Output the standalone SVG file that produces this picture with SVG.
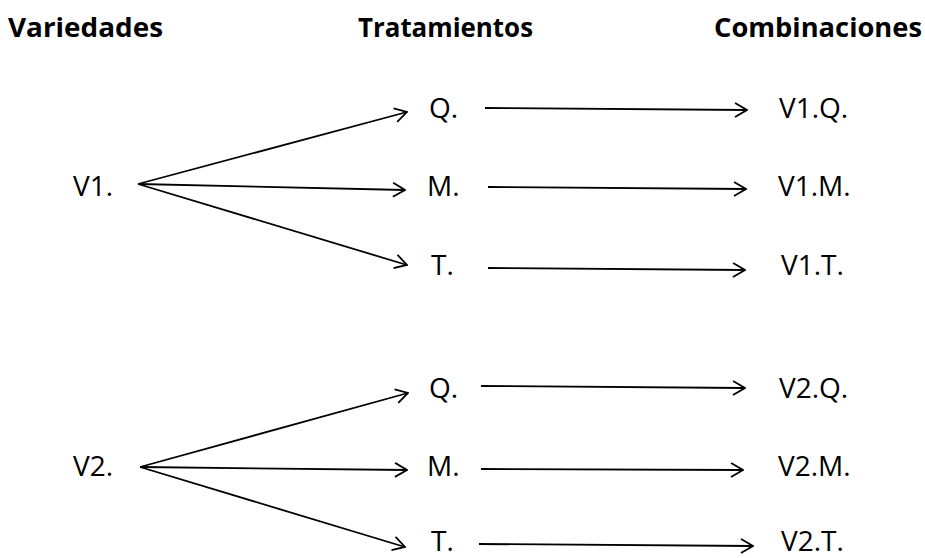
<svg xmlns="http://www.w3.org/2000/svg" width="925" height="558" viewBox="0 0 925 558">
<style>
.h{font-family:"Open Sans","Liberation Sans",sans-serif;font-weight:bold;font-size:27px;fill:#000}
.t{font-family:"Open Sans","Liberation Sans",sans-serif;font-size:28px;fill:#000}
.c{fill:none;stroke:#000;stroke-width:1.8}
</style>
<defs>
<marker id="a" viewBox="0 0 14 16" refX="13" refY="8" markerWidth="14" markerHeight="16" markerUnits="userSpaceOnUse" orient="auto">
<path d="M1,1 L13,8 L1,15" fill="none" stroke="#000" stroke-width="1.8"/>
</marker>
</defs>
<rect width="925" height="558" fill="#fff"/>
<g id="headers">
<text class="h" x="8" y="37" textLength="155" lengthAdjust="spacingAndGlyphs">Variedades</text>
<text class="h" x="358" y="37" textLength="175" lengthAdjust="spacingAndGlyphs">Tratamientos</text>
<text class="h" x="714" y="37" textLength="208" lengthAdjust="spacingAndGlyphs">Combinaciones</text>
</g>
<g id="connectors">
<line class="c" x1="138" y1="184" x2="407" y2="112" marker-end="url(#a)"/>
<line class="c" x1="138" y1="184" x2="405" y2="190" marker-end="url(#a)"/>
<line class="c" x1="138" y1="184" x2="407" y2="265" marker-end="url(#a)"/>
<line class="c" x1="485" y1="108" x2="747" y2="110" marker-end="url(#a)"/>
<line class="c" x1="488" y1="187" x2="746" y2="189" marker-end="url(#a)"/>
<line class="c" x1="488" y1="268" x2="745" y2="270" marker-end="url(#a)"/>
<line class="c" x1="140" y1="467" x2="408" y2="393" marker-end="url(#a)"/>
<line class="c" x1="140" y1="467" x2="407" y2="470" marker-end="url(#a)"/>
<line class="c" x1="140" y1="467" x2="405" y2="547" marker-end="url(#a)"/>
<line class="c" x1="481" y1="386" x2="745" y2="388" marker-end="url(#a)"/>
<line class="c" x1="481" y1="469" x2="743" y2="470" marker-end="url(#a)"/>
<line class="c" x1="479" y1="544" x2="753" y2="546" marker-end="url(#a)"/>
</g>
<g id="V1"><text class="t" x="73" y="196">V1.</text></g>
<g id="V1Q"><text class="t" x="429" y="118">Q.</text></g>
<g id="V1M"><text class="t" x="427" y="196">M.</text></g>
<g id="V1T"><text class="t" x="431" y="275">T.</text></g>
<g id="V1.Q"><text class="t" x="779" y="118">V1.Q.</text></g>
<g id="V1.M"><text class="t" x="778" y="196">V1.M.</text></g>
<g id="V1.T"><text class="t" x="781" y="275">V1.T.</text></g>
<g id="V2"><text class="t" x="73" y="476">V2.</text></g>
<g id="V2Q"><text class="t" x="429" y="398">Q.</text></g>
<g id="V2M"><text class="t" x="427" y="476">M.</text></g>
<g id="V2T"><text class="t" x="431" y="551">T.</text></g>
<g id="V2.Q"><text class="t" x="779" y="398">V2.Q.</text></g>
<g id="V2.M"><text class="t" x="778" y="476">V2.M.</text></g>
<g id="V2.T"><text class="t" x="781" y="551">V2.T.</text></g>
</svg>
